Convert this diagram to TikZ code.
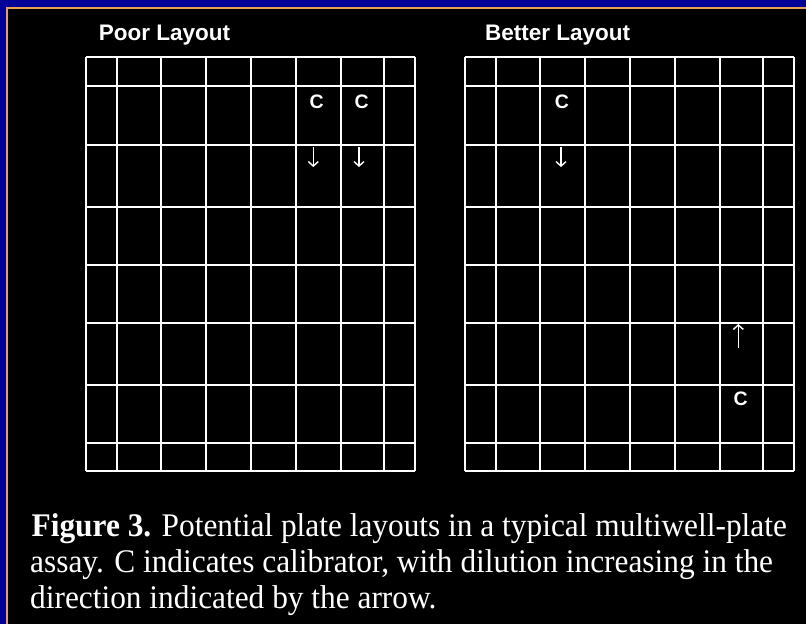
\documentclass[tikz,border=0pt]{standalone}
\usepackage{fontspec}
\setmainfont{Liberation Serif}
\newfontfamily\arialfont{Liberation Sans}
\newfontfamily\capfont[FakeStretch=0.95]{Liberation Serif}
\usetikzlibrary{arrows.meta}
\definecolor{slideblue}{RGB}{0,0,150}
\definecolor{slideorange}{RGB}{232,162,82}
\tikzset{
  gridline/.style={draw=white, line width=1.7pt},
  title/.style={anchor=base west, inner sep=0pt, text=white, font=\arialfont\bfseries\fontsize{22.5}{26}\selectfont},
  clabel/.style={inner sep=0pt, text=white, font=\arialfont\bfseries\fontsize{19.5}{22}\selectfont},
  caption/.style={anchor=base west, inner sep=0pt, text=white, font=\capfont\fontsize{33}{36}\selectfont},
  dilarrow/.style={draw=white, line width=1.4pt, -{Straight Barb[length=4.5pt,width=10pt]}}
}
\begin{document}
\begin{tikzpicture}[x=1pt,y=-1pt]
\useasboundingbox (0,0) rectangle (806,624);
\fill[black] (0,0) rectangle (806,624);
\fill[slideblue] (0,0) rectangle (806,7.3);
\fill[slideblue] (0,0) rectangle (6,624);
\draw[slideorange, line width=2pt] (7,624) -- (7,8.3) -- (806,8.3);

% grids
\foreach \dx in {0,379}{
  \begin{scope}[xshift=\dx pt]
    \foreach \x in {86,117.3,160.7,205.7,250.7,295.7,340.7,384,415}
      \draw[gridline] (\x,57) -- (\x,471);
    \foreach \y in {57,86,145,207,265,323,385,443,471}
      \draw[gridline] (86,\y) -- (415,\y);
  \end{scope}
}

% titles
\node[title] (t1) at (98.7,40.7) {Poor Layout};
\node[title] (t2) at (485,40.7) {Better Layout};

% calibrators
\node[clabel] (c1) at (316.7,101.7) {C};
\node[clabel] (c2) at (361.7,101.7) {C};
\node[clabel] (c3) at (562,101.7) {C};
\node[clabel] (c4) at (740.7,399) {C};

% dilution arrows
\coordinate (a1s) at (313.3,147);
\coordinate (a1e) at (313.3,167);
\coordinate (a2s) at (359,147);
\coordinate (a2e) at (359,167);
\coordinate (a3s) at (561,147);
\coordinate (a3e) at (561,167);
\coordinate (a4s) at (738.3,348);
\coordinate (a4e) at (738.3,324);
\draw[dilarrow] (a1s) -- (a1e);
\draw[dilarrow] (a2s) -- (a2e);
\draw[dilarrow] (a3s) -- (a3e);
\draw[dilarrow] (a4s) -- (a4e);

% caption
\node[caption] (cap1) at (31.5,536) {\textbf{Figure 3.} Potential plate layouts in a typical multiwell-plate};
\node[caption] (cap2) at (30,572.5) {assay. C indicates calibrator, with dilution increasing in the};
\node[caption] (cap3) at (30,608) {direction indicated by the arrow.};
\end{tikzpicture}
\end{document}
